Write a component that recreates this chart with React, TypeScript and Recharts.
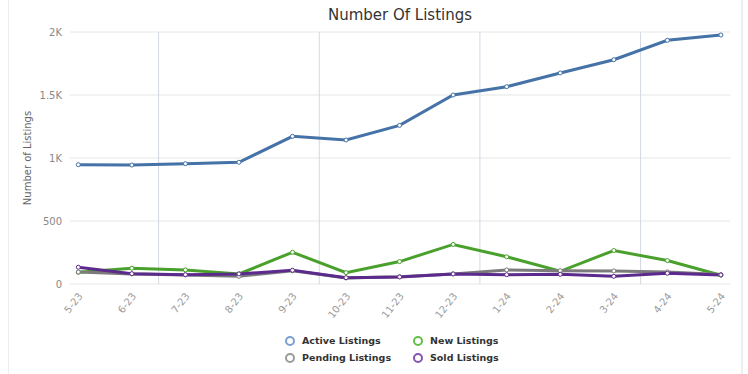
import React from 'react';
import { LineChart, Line, XAxis, YAxis, CartesianGrid, ReferenceLine, Legend } from 'recharts';

const months = ['5-23', '6-23', '7-23', '8-23', '9-23', '10-23', '11-23', '12-23', '1-24', '2-24', '3-24', '4-24', '5-24'];
const activeListings = [947, 944, 955, 966, 1172, 1143, 1259, 1500, 1566, 1675, 1780, 1934, 1976];
const newListings = [93, 125, 112, 80, 252, 90, 178, 314, 216, 101, 266, 186, 70];
const pendingListings = [95, 80, 72, 61, 105, 48, 58, 80, 112, 106, 104, 96, 75];
const soldListings = [133, 82, 74, 80, 109, 50, 56, 80, 74, 77, 61, 85, 72];
const yTicks = [0, 500, 1000, 1500, 2000];
const dividers = [1.5, 4.5, 7.5, 10.5];

const series = [
  { key: 'active', name: 'Active Listings', color: '#4572a7', legend: '#7aa0d0' },
  { key: 'newL', name: 'New Listings', color: '#4aa02c', legend: '#62bf48' },
  { key: 'pending', name: 'Pending Listings', color: '#7b7b7b', legend: '#9a9a9a' },
  { key: 'sold', name: 'Sold Listings', color: '#5c2a8c', legend: '#8456b0' },
];

const data = months.map((m, i) => ({
  i,
  month: m,
  active: activeListings[i],
  newL: newListings[i],
  pending: pendingListings[i],
  sold: soldListings[i],
}));

const FONT = '"DejaVu Sans", Verdana, sans-serif';

const XTick = (props: any) => {
  const { x, y, payload } = props;
  return (
    <g transform={`translate(${x + 2},${y + 2})`}>
      <text x={0} y={0} dy="0.35em" textAnchor="end" transform="rotate(-52)" fontSize={10} fill="#999" fontFamily={FONT}>
        {months[payload.value]}
      </text>
    </g>
  );
};

const fmtY = (v: number) => (v >= 1000 ? `${v / 1000}K` : `${v}`);

const LegendContent = (props: any) => {
  const { payload } = props;
  return (
    <div style={{ display: 'grid', gridTemplateColumns: '128px 128px', marginLeft: 285, rowGap: 0 }}>
      {(payload || []).map((p: any) => {
        const s = series.find((q) => q.key === p.dataKey) || series[0];
        return (
          <div key={p.value} style={{ display: 'flex', alignItems: 'center', height: 17 }}>
            <svg width={10} height={10} style={{ marginRight: 7 }}>
              <circle cx={5} cy={5} r={4} fill="none" stroke={s.legend} strokeWidth={2} />
            </svg>
            <span style={{ fontFamily: FONT, fontWeight: 'bold', fontSize: 9.5, color: '#333' }}>{p.value}</span>
          </div>
        );
      })}
    </div>
  );
};

export default function App() {
  return (
    <div style={{ position: 'absolute', left: 0, top: 0, width: 748, height: 374, background: '#fff' }}>
      <div style={{ position: 'absolute', left: 8, top: 0, width: 1, height: 374, background: '#eeeeee' }} />
      <div style={{ position: 'absolute', left: 741, top: 0, width: 2, height: 374, background: '#eeeeee' }} />
      <div
        style={{
          position: 'absolute',
          left: 0,
          top: 5,
          width: 800,
          height: 20,
          lineHeight: '20px',
          textAlign: 'center',
          fontFamily: FONT,
          fontSize: 15,
          color: '#333',
        }}
      >
        Number Of Listings
      </div>
      <LineChart width={748} height={374} data={data} margin={{ top: 32, right: 18, left: 0, bottom: 8 }}>
        <CartesianGrid vertical={false} stroke="#e6e6e6" />
        {dividers.map((d) => (
          <ReferenceLine key={d} x={d} stroke="#d3d9e2" strokeWidth={1} />
        ))}
        <XAxis
          type="number"
          dataKey="i"
          domain={[-0.155, 12.17]}
          allowDataOverflow
          ticks={months.map((_, i) => i)}
          interval={0}
          axisLine={false}
          tickLine={false}
          height={48}
          tick={<XTick />}
        />
        <YAxis
          width={70}
          domain={[0, 2000]}
          ticks={yTicks}
          tickFormatter={fmtY}
          axisLine={false}
          tickLine={false}
          tick={{ fontSize: 10, fill: '#888', fontFamily: FONT }}
          label={{
            value: 'Number of Listings',
            angle: -90,
            position: 'center',
            dx: -8,
            style: { fontSize: 10, fill: '#666', fontFamily: FONT, textAnchor: 'middle' },
          }}
        />
        <Legend verticalAlign="bottom" height={34} wrapperStyle={{ left: 0, width: 748 }} content={<LegendContent />} />
        {series.map((s) => (
          <Line
            key={s.key}
            type="linear"
            dataKey={s.key}
            name={s.name}
            stroke={s.color}
            strokeWidth={3}
            dot={{ r: 2, fill: '#fff', stroke: s.color, strokeWidth: 1 }}
            activeDot={false}
            isAnimationActive={false}
          />
        ))}
      </LineChart>
    </div>
  );
}
